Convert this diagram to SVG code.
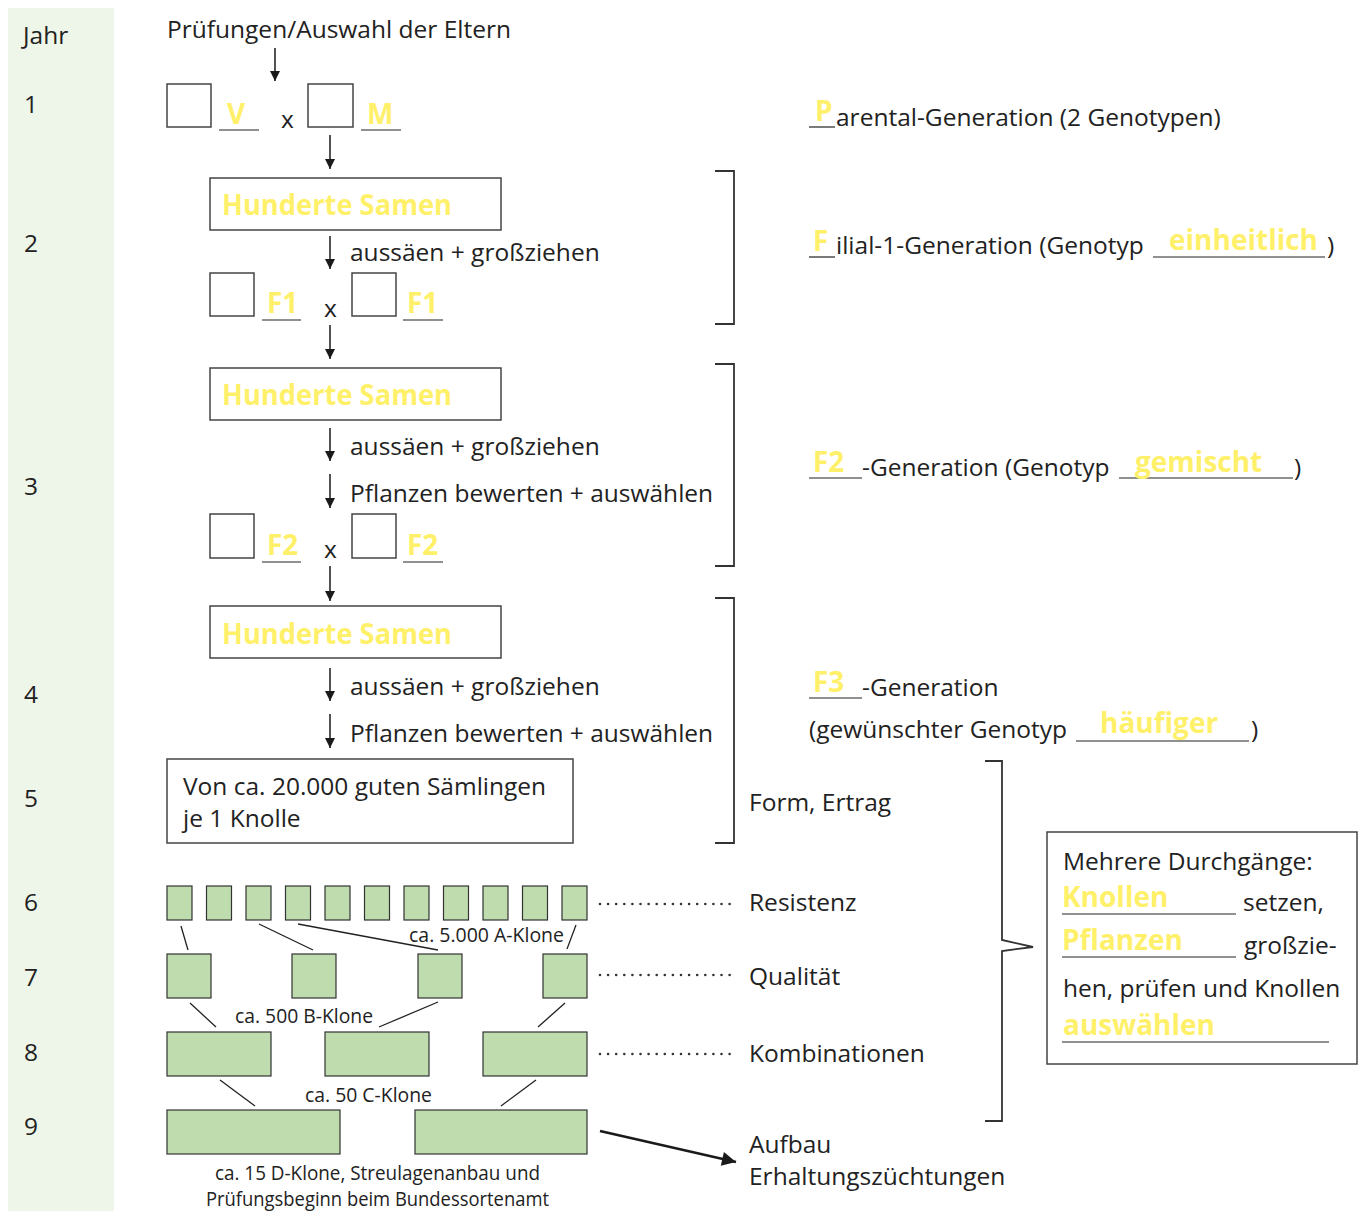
<svg xmlns="http://www.w3.org/2000/svg" width="1365" height="1211" viewBox="0 0 1365 1211">
<defs>
<marker id="ah" viewBox="0 0 10 10" refX="10" refY="5" markerWidth="10" markerHeight="10" markerUnits="userSpaceOnUse" orient="auto"><path d="M0,0 L10,5 L0,10 z" fill="#1a1a1a"/></marker>
<marker id="ah2" viewBox="0 0 10 10" refX="10" refY="5" markerWidth="20" markerHeight="14" markerUnits="userSpaceOnUse" orient="auto"><path d="M0,0 L10,5 L0,10 z" fill="#1a1a1a"/></marker>
<style>
text{font-family:"Open Sans","Noto Sans",sans-serif;fill:#222;font-size:24.5px}
.y{fill:#fff06a;font-weight:bold;font-size:28px}
.c{font-size:20px}
.box{fill:#fff;stroke:#444;stroke-width:1.5}
.g{fill:#bfdcaf;stroke:#333;stroke-width:1.2}
.ln{stroke:#222;stroke-width:1.3;fill:none}
.ul{stroke:#222;stroke-width:1.2}
.ar{stroke:#1a1a1a;stroke-width:1.5;marker-end:url(#ah)}
.dot{stroke:#333;stroke-width:2.6;stroke-linecap:round;stroke-dasharray:0 8.1}
.br{stroke:#333;stroke-width:1.8;fill:none}
</style>
</defs>
<rect x="8" y="8" width="106" height="1203" fill="#eef5e9"/>
<g id="years">
<text x="23" y="44">Jahr</text>
<text x="24" y="113">1</text>
<text x="24" y="252">2</text>
<text x="24" y="495">3</text>
<text x="24" y="703">4</text>
<text x="24" y="807">5</text>
<text x="24" y="911">6</text>
<text x="24" y="986">7</text>
<text x="24" y="1061">8</text>
<text x="24" y="1135">9</text>
</g>
<g id="connectors">
<line class="ar" x1="275" y1="48" x2="275" y2="81"/>
<line class="ar" x1="330" y1="135" x2="330" y2="169"/>
<line class="ar" x1="330" y1="236" x2="330" y2="269"/>
<line class="ar" x1="330" y1="325" x2="330" y2="359"/>
<line class="ar" x1="330" y1="428" x2="330" y2="461"/>
<line class="ar" x1="330" y1="474" x2="330" y2="508"/>
<line class="ar" x1="330" y1="566" x2="330" y2="601"/>
<line class="ar" x1="330" y1="668" x2="330" y2="701"/>
<line class="ar" x1="330" y1="714" x2="330" y2="748"/>
<line class="ln" x1="181" y1="926" x2="188" y2="950"/>
<line class="ln" x1="259" y1="924" x2="313" y2="950"/>
<line class="ln" x1="298" y1="924" x2="438" y2="950"/>
<line class="ln" x1="576" y1="925" x2="567" y2="949"/>
<line class="ln" x1="190" y1="1003" x2="216" y2="1027"/>
<line class="ln" x1="379" y1="1027" x2="438" y2="1002"/>
<line class="ln" x1="565" y1="1003" x2="538" y2="1027"/>
<line class="ln" x1="220" y1="1080" x2="255" y2="1106"/>
<line class="ln" x1="536" y1="1080" x2="501" y2="1106"/>
<line class="dot" x1="600" y1="904" x2="737" y2="904"/>
<line class="dot" x1="600" y1="975" x2="737" y2="975"/>
<line class="dot" x1="600" y1="1054" x2="737" y2="1054"/>
<line stroke="#1a1a1a" stroke-width="2.5" marker-end="url(#ah2)" x1="600" y1="1131" x2="736" y2="1162"/>
<path class="br" d="M715,171 H734 V324 H715"/>
<path class="br" d="M715,364 H734 V566 H715"/>
<path class="br" d="M715,598 H734 V843 H715"/>
<path class="br" d="M985,761 H1002 V940 L1033,947 L1002,951 V1121 H985"/>
</g>
<g id="gen1">
<text x="167" y="38">Prüfungen/Auswahl der Eltern</text>
<rect class="box" x="167" y="84" width="44" height="43"/>
<text class="y" x="227" y="124">V</text>
<line class="ul" x1="219" y1="130" x2="259" y2="130"/>
<text x="281" y="128" font-size="22">x</text>
<rect class="box" x="308" y="84" width="45" height="43"/>
<text class="y" x="367" y="124">M</text>
<line class="ul" x1="361" y1="130" x2="401" y2="130"/>
</g>
<g id="gen2">
<rect class="box" x="210" y="178" width="291" height="52"/>
<text class="y" x="222" y="215" textLength="230" lengthAdjust="spacingAndGlyphs">Hunderte Samen</text>
<text x="350" y="261">aussäen + großziehen</text>
<rect class="box" x="210" y="273" width="44" height="43"/>
<text class="y" x="267" y="313">F1</text>
<line class="ul" x1="262" y1="320" x2="301" y2="320"/>
<text x="324" y="317" font-size="22">x</text>
<rect class="box" x="352" y="273" width="44" height="43"/>
<text class="y" x="407" y="313">F1</text>
<line class="ul" x1="403" y1="320" x2="443" y2="320"/>
</g>
<g id="gen3">
<rect class="box" x="210" y="368" width="291" height="52"/>
<text class="y" x="222" y="405" textLength="230" lengthAdjust="spacingAndGlyphs">Hunderte Samen</text>
<text x="350" y="455">aussäen + großziehen</text>
<text x="350" y="502">Pflanzen bewerten + auswählen</text>
<rect class="box" x="210" y="514" width="44" height="44"/>
<text class="y" x="267" y="555">F2</text>
<line class="ul" x1="262" y1="562" x2="301" y2="562"/>
<text x="324" y="558" font-size="22">x</text>
<rect class="box" x="352" y="514" width="44" height="44"/>
<text class="y" x="407" y="555">F2</text>
<line class="ul" x1="403" y1="562" x2="443" y2="562"/>
</g>
<g id="gen4">
<rect class="box" x="210" y="606" width="291" height="52"/>
<text class="y" x="222" y="644" textLength="230" lengthAdjust="spacingAndGlyphs">Hunderte Samen</text>
<text x="350" y="695">aussäen + großziehen</text>
<text x="350" y="742">Pflanzen bewerten + auswählen</text>
</g>
<g id="gen5">
<rect class="box" x="167" y="759" width="406" height="84"/>
<text x="183" y="795">Von ca. 20.000 guten Sämlingen</text>
<text x="183" y="827">je 1 Knolle</text>
</g>
<g id="clones">
<rect class="g" x="167" y="886" width="25" height="34"/>
<rect class="g" x="206.5" y="886" width="25" height="34"/>
<rect class="g" x="246" y="886" width="25" height="34"/>
<rect class="g" x="285.5" y="886" width="25" height="34"/>
<rect class="g" x="325" y="886" width="25" height="34"/>
<rect class="g" x="364.5" y="886" width="25" height="34"/>
<rect class="g" x="404" y="886" width="25" height="34"/>
<rect class="g" x="443.5" y="886" width="25" height="34"/>
<rect class="g" x="483" y="886" width="25" height="34"/>
<rect class="g" x="522.5" y="886" width="25" height="34"/>
<rect class="g" x="562" y="886" width="25" height="34"/>
<text class="c" x="409" y="942" textLength="155" lengthAdjust="spacingAndGlyphs">ca. 5.000 A-Klone</text>
<rect class="g" x="167" y="954" width="44" height="44"/>
<rect class="g" x="292" y="954" width="44" height="44"/>
<rect class="g" x="418" y="954" width="44" height="44"/>
<rect class="g" x="543" y="954" width="44" height="44"/>
<text class="c" x="235" y="1023" textLength="138" lengthAdjust="spacingAndGlyphs">ca. 500 B-Klone</text>
<rect class="g" x="167" y="1032" width="104" height="44"/>
<rect class="g" x="325" y="1032" width="104" height="44"/>
<rect class="g" x="483" y="1032" width="104" height="44"/>
<text class="c" x="305" y="1102" textLength="127" lengthAdjust="spacingAndGlyphs">ca. 50 C-Klone</text>
<rect class="g" x="167" y="1110" width="173" height="44"/>
<rect class="g" x="415" y="1110" width="172" height="44"/>
<text class="c" x="215" y="1180" textLength="325" lengthAdjust="spacingAndGlyphs">ca. 15 D-Klone, Streulagenanbau und</text>
<text class="c" x="206" y="1206" textLength="343" lengthAdjust="spacingAndGlyphs">Prüfungsbeginn beim Bundessortenamt</text>
</g>
<g id="right-labels">
<text class="y" x="815" y="121">P</text>
<line class="ul" x1="809" y1="127" x2="835" y2="127"/>
<text x="836" y="126">arental-Generation (2 Genotypen)</text>
<text class="y" x="813" y="251">F</text>
<line class="ul" x1="809" y1="257" x2="835" y2="257"/>
<text x="836" y="254">ilial-1-Generation (Genotyp</text>
<line class="ul" x1="1153" y1="257" x2="1325" y2="257"/>
<text class="y" x="1169" y="250">einheitlich</text>
<text x="1327" y="254">)</text>
<text class="y" x="813" y="472">F2</text>
<line class="ul" x1="809" y1="478" x2="862" y2="478"/>
<text x="862" y="476">-Generation (Genotyp</text>
<line class="ul" x1="1119" y1="478" x2="1293" y2="478"/>
<text class="y" x="1135" y="472">gemischt</text>
<text x="1294" y="476">)</text>
<text class="y" x="813" y="692">F3</text>
<line class="ul" x1="809" y1="698" x2="862" y2="698"/>
<text x="862" y="696">-Generation</text>
<text x="809" y="738">(gewünschter Genotyp</text>
<line class="ul" x1="1076" y1="741" x2="1249" y2="741"/>
<text class="y" x="1100" y="733">häufiger</text>
<text x="1251" y="738">)</text>
<text x="749" y="811">Form, Ertrag</text>
<text x="749" y="911">Resistenz</text>
<text x="749" y="985">Qualität</text>
<text x="749" y="1062">Kombinationen</text>
<text x="749" y="1153">Aufbau</text>
<text x="749" y="1185">Erhaltungszüchtungen</text>
</g>
<g id="note">
<rect class="box" x="1047" y="832" width="310" height="232"/>
<text x="1063" y="870">Mehrere Durchgänge:</text>
<text class="y" x="1062" y="907">Knollen</text>
<line class="ul" x1="1062" y1="914" x2="1236" y2="914"/>
<text x="1243" y="911">setzen,</text>
<text class="y" x="1062" y="950">Pflanzen</text>
<line class="ul" x1="1062" y1="957" x2="1236" y2="957"/>
<text x="1244" y="954">großzie-</text>
<text x="1063" y="997">hen, prüfen und Knollen</text>
<text class="y" x="1063" y="1035">auswählen</text>
<line class="ul" x1="1062" y1="1042" x2="1329" y2="1042"/>
</g>
</svg>
